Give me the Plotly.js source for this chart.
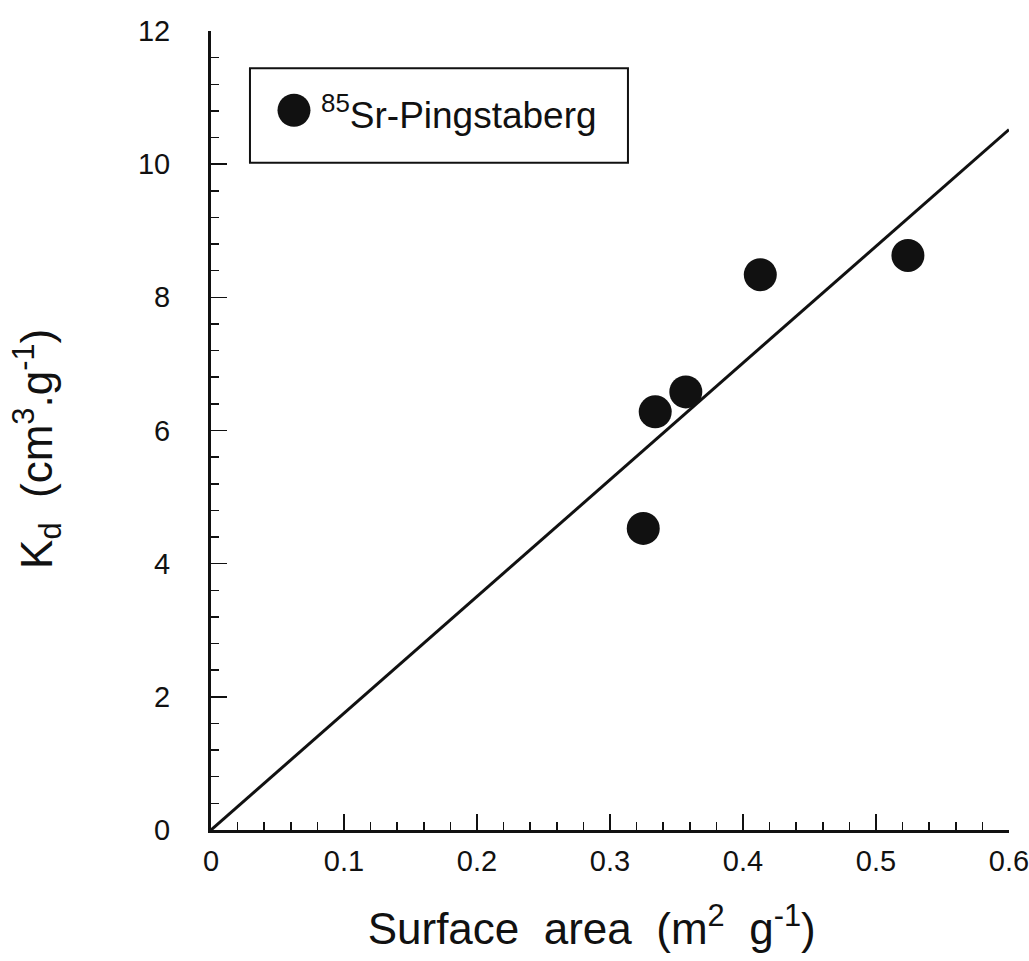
<!DOCTYPE html>
<html>
<head>
<meta charset="utf-8">
<script src="https://cdn.plot.ly/plotly-3.0.1.min.js"></script>
<style>html,body{margin:0;padding:0;background:#fff;}#chart{width:1029px;height:961px;}</style>
</head>
<body>
<div id="chart"></div>
<script>
// Data
const surfaceArea = [0.325, 0.334, 0.357, 0.413, 0.524];
const kd = [4.53, 6.28, 6.58, 8.34, 8.63];
const fitX = [0, 0.6];
const fitY = [0, 10.52];
const xTickVals = [0, 0.1, 0.2, 0.3, 0.4, 0.5, 0.6];
const xTickText = ['0', '0.1', '0.2', '0.3', '0.4', '0.5', '0.6'];
const yTickVals = [0, 2, 4, 6, 8, 10, 12];
const yTickText = ['0', '2', '4', '6', '8', '10', '12'];
const seriesName = '<sup>85</sup>Sr-Pingstaberg';

const FONT = 'Liberation Sans, Arial, Helvetica, sans-serif';
const NB = '\u00A0';
const ZW = '\u200B';

const traces = [
  {
    x: fitX, y: fitY, type: 'scatter', mode: 'lines',
    line: {color: '#111', width: 3}, showlegend: false, hoverinfo: 'skip'
  },
  {
    x: surfaceArea, y: kd, type: 'scatter', mode: 'markers', name: seriesName,
    marker: {color: '#111', size: 33, line: {width: 0}}, showlegend: false
  }
];

const layout = {
  width: 1029, height: 961,
  margin: {l: 211, r: 20, t: 31, b: 131},
  paper_bgcolor: '#fff', plot_bgcolor: '#fff',
  font: {family: FONT, color: '#111'},
  showlegend: false,
  xaxis: {
    range: [0, 0.6], tickmode: 'array', tickvals: xTickVals, ticktext: xTickText,
    ticks: 'inside', ticklen: 16, tickwidth: 1.5, tickcolor: '#111',
    minor: {ticks: 'inside', dtick: 0.02, ticklen: 8, tickwidth: 1.5, tickcolor: '#111'},
    showline: true, linewidth: 3, linecolor: '#111', showgrid: false, zeroline: false,
    tickfont: {size: 29, family: FONT, color: '#111'},
    ticklabelstandoff: 3, ticklabeloverflow: 'allow',
    title: {text: 'Surface' + NB + NB + 'area' + NB + NB + '(m<sup>2</sup>' + NB + NB + 'g<sup>-1</sup>)' + NB + NB + NB + ZW,
            font: {size: 44, family: FONT, color: '#111'}, standoff: 38}
  },
  yaxis: {
    range: [0, 12], tickmode: 'array', tickvals: yTickVals, ticktext: yTickText,
    ticks: 'inside', ticklen: 16, tickwidth: 1.5, tickcolor: '#111',
    minor: {ticks: 'inside', dtick: 0.4, ticklen: 8, tickwidth: 1.5, tickcolor: '#111'},
    showline: true, linewidth: 3, linecolor: '#111', showgrid: false, zeroline: false,
    tickfont: {size: 29, family: FONT, color: '#111'},
    ticklabelstandoff: 32, ticklabeloverflow: 'allow',
    title: {text: 'K<sub>d</sub>' + NB + NB + '(cm<sup>3</sup>.g<sup>-1</sup>)' + NB + NB + NB + ZW,
            font: {size: 44, family: FONT, color: '#111'}, standoff: 72}
  },
  shapes: [
    {type: 'rect', xref: 'x', yref: 'y', x0: 0.0293, x1: 0.3135, y0: 10.02, y1: 11.44,
     line: {color: '#111', width: 2}, fillcolor: 'rgba(0,0,0,0)'},
    {type: 'circle', xref: 'x', yref: 'y', x0: 0.0624 - 0.0124, x1: 0.0624 + 0.0124,
     y0: 10.81 - 0.248, y1: 10.81 + 0.248, line: {width: 0}, fillcolor: '#111'}
  ],
  annotations: [
    {xref: 'x', yref: 'y', x: 0.0815, y: 10.78, xanchor: 'left', yanchor: 'middle',
     text: seriesName, showarrow: false, font: {size: 37, family: FONT, color: '#111'}}
  ]
};

Plotly.newPlot('chart', traces, layout, {displayModeBar: false, staticPlot: true});
</script>
</body>
</html>
